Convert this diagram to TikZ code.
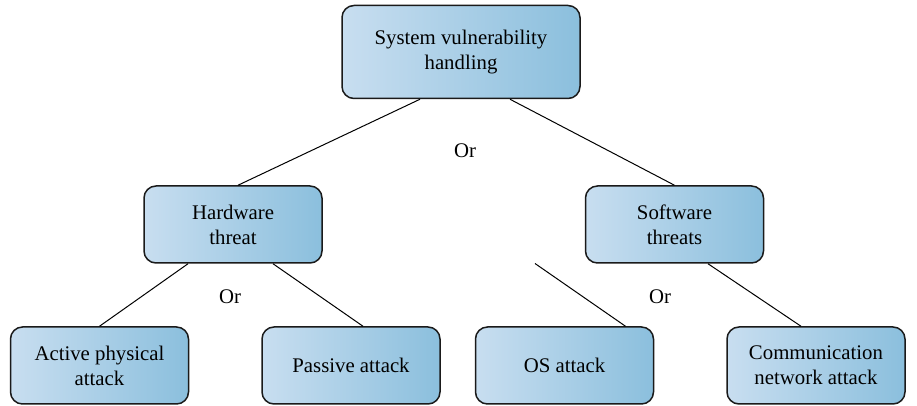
\documentclass[tikz,border=0pt]{standalone}
\usepackage{fontspec}
\setmainfont{Liberation Serif}
\usetikzlibrary{positioning}
\definecolor{boxleft}{HTML}{C8DEF0}
\definecolor{boxright}{HTML}{8BBFDD}
\definecolor{boxline}{HTML}{1A1A1A}

\begin{document}
\begin{tikzpicture}[x=0.5pt,y=-0.5pt,
  box/.style={draw=boxline,line width=0.75pt,rounded corners=6pt,
    left color=boxleft,right color=boxright,align=center,inner sep=0pt,
    minimum width=89pt,minimum height=38.5pt,
    font=\fontsize{10.4}{12.5}\selectfont},
  rootbox/.style={box,minimum width=119pt,minimum height=46.5pt},
  link/.style={line width=0.5pt,black},
  orlabel/.style={font=\fontsize{10.4}{12.5}\selectfont}
]
\useasboundingbox (0,0) rectangle (917,406);

\node[rootbox] (root) at (461,52) {System vulnerability\\handling};

\node[box] (hw) at (233,224.5) {Hardware\\threat};
\node[box] (sw) at (674.5,224.5) {Software\\threats};

\node[box] (active) at (99.5,365.5) {Active physical\\attack};
\node[box,right=36pt of active] (passive) {Passive attack};
\node[box,right=17pt of passive] (os) {OS attack};
\node[box,right=36pt of os] (comm) {Communication\\network attack};

\coordinate (osfree) at (535,263.5);

\node[orlabel] (or1) at (465,151) {Or};
\node[orlabel] (or2) at (230,297) {Or};
\node[orlabel] (or3) at (660,297) {Or};

\draw[link] ([xshift=-20.5pt]root.south) -- ([xshift=2.5pt]hw.north);
\draw[link] ([xshift=24.5pt]root.south) -- (sw.north);
\draw[link] ([xshift=-22.5pt]hw.south) -- (active.north);
\draw[link] ([xshift=20pt]hw.south) -- ([xshift=6pt]passive.north);
\draw[link] (osfree) -- ([xshift=30.5pt]os.north);
\draw[link] ([xshift=16.75pt]sw.south) -- ([xshift=-7.5pt]comm.north);
\end{tikzpicture}
\end{document}
